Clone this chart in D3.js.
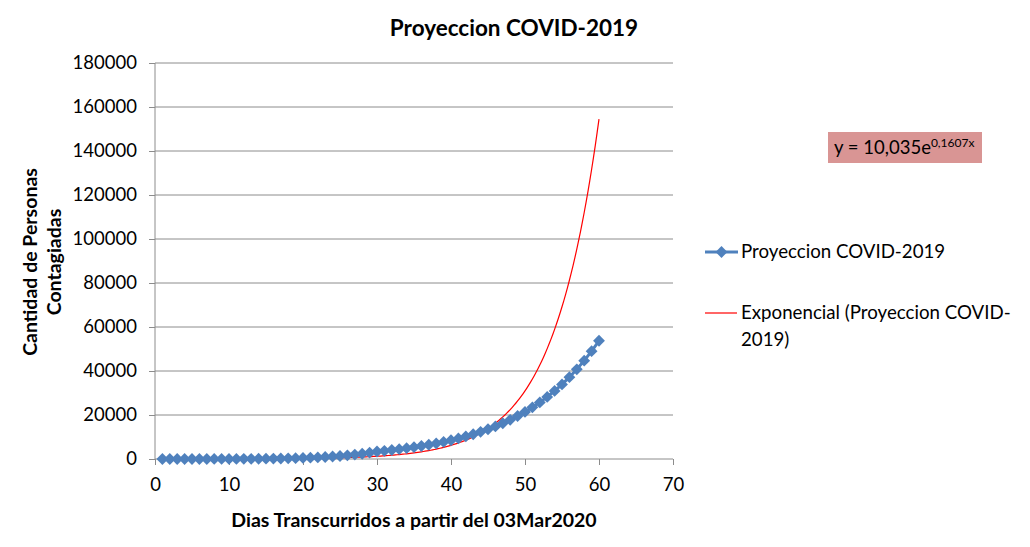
<!DOCTYPE html>
<html>
<head>
<meta charset="utf-8">
<script src="https://cdn.jsdelivr.net/npm/d3@7"></script>
<style>
  body { margin: 0; background: #fff; }
  svg { font-family: Lato, 'Open Sans', sans-serif; }
</style>
</head>
<body>
<div id="chart"></div>
<script>
const width = 1030
const height = 547
const margin = { top: 63, right: 357, bottom: 88, left: 155 }

// dias transcurridos (1..60) y casos proyectados
const dias = d3.range(1, 61)
const casos = [2, 3, 4, 6, 8, 11, 15, 20, 27, 36, 48, 64, 84, 109, 141, 182, 233, 297, 377, 474,
  593, 737, 912, 1120, 1368, 1660, 2003, 2404, 2866, 3400, 3728, 4087, 4481, 4913, 5386, 5905,
  6475, 7099, 7784, 8532, 9354, 10256, 11245, 12330, 13515, 14818, 16247, 17814, 19531, 21408,
  23472, 25736, 28218, 30938, 33912, 37183, 40766, 44696, 49008, 53734]
const yTicks = [0, 20000, 40000, 60000, 80000, 100000, 120000, 140000, 160000, 180000]
const xTicks = [0, 10, 20, 30, 40, 50, 60, 70]

// linea de tendencia exponencial mostrada: y = 10,035e^(0,1607x)
const trendA = 10.035
const trendB = 0.1607

const blue = '#4F81BD'
const grid = '#8c8c8c'

const svg = d3.select('#chart')
  .append('svg')
  .attr('width', width)
  .attr('height', height)

const x = d3.scaleLinear().domain([0, 70]).range([margin.left, width - margin.right])
const y = d3.scaleLinear().domain([0, 180000]).range([height - margin.bottom, margin.top])

// gridlines
svg.append('g')
  .selectAll('line')
  .data(yTicks.slice(1))
  .enter()
  .append('line')
  .attr('x1', x(0))
  .attr('x2', x(70))
  .attr('y1', (d) => y(d))
  .attr('y2', (d) => y(d))
  .attr('stroke', grid)
  .attr('stroke-width', 1)

const yAxis = svg.append('g')
  .attr('transform', `translate(${x(0)},0)`)
  .call(d3.axisLeft(y).tickValues(yTicks).tickSize(6).tickPadding(12).tickFormat(d3.format('d')))
const xAxis = svg.append('g')
  .attr('transform', `translate(0,${y(0)})`)
  .call(d3.axisBottom(x).tickValues(xTicks).tickSize(6).tickPadding(13).tickFormat(d3.format('d')))

for (const ax of [yAxis, xAxis]) {
  ax.select('.domain').attr('stroke', grid)
  ax.selectAll('.tick line').attr('stroke', grid)
  ax.selectAll('.tick text').attr('fill', '#000').style('font-size', '18.5px').style('font-family', 'Lato')
}
// dominios planos, sin marcas en los extremos
xAxis.select('.domain').attr('d', `M${x(0)},0H${x(70)}`)
yAxis.select('.domain').attr('d', `M0,${y(180000)}V${y(0)}`)

// linea de tendencia
const trendX = d3.range(1, 60.001, 0.25)
const trendLine = d3.line()
  .x((d) => x(d))
  .y((d) => y(trendA * Math.exp(trendB * d)))
svg.append('path')
  .datum(trendX)
  .attr('d', trendLine)
  .attr('fill', 'none')
  .attr('stroke', '#ff0000')
  .attr('stroke-width', 1.2)

// serie
const line = d3.line()
  .x((d, i) => x(dias[i]))
  .y((d) => y(d))
svg.append('path')
  .datum(casos)
  .attr('d', line)
  .attr('fill', 'none')
  .attr('stroke', blue)
  .attr('stroke-width', 3)

const diamond = d3.symbol().type(d3.symbolSquare).size(70)
svg.append('g')
  .selectAll('path')
  .data(casos)
  .enter()
  .append('path')
  .attr('d', diamond)
  .attr('transform', (d, i) => `translate(${x(dias[i])},${y(d)}) rotate(45)`)
  .attr('fill', blue)

// titulos
svg.append('text')
  .attr('x', 514)
  .attr('y', 36)
  .attr('text-anchor', 'middle')
  .style('font-size', '22.5px')
  .style('font-weight', 'bold')
  .text('Proyeccion COVID-2019')

svg.append('text')
  .attr('x', 414)
  .attr('y', 527)
  .attr('text-anchor', 'middle')
  .style('font-size', '19.5px')
  .style('font-weight', 'bold')
  .text('Dias Transcurridos a partir del 03Mar2020')

const yTitle = svg.append('text')
  .attr('transform', 'translate(0,262) rotate(-90)')
  .attr('text-anchor', 'middle')
  .style('font-size', '19.5px')
  .style('font-weight', 'bold')
yTitle.append('tspan').attr('x', 0).attr('y', 37).text('Cantidad de Personas')
yTitle.append('tspan').attr('x', 0).attr('y', 61).text('Contagiadas')

// leyenda
const lg = svg.append('g')
lg.append('line')
  .attr('x1', 705).attr('x2', 738).attr('y1', 252).attr('y2', 252)
  .attr('stroke', blue).attr('stroke-width', 3)
lg.append('path')
  .attr('d', diamond)
  .attr('transform', 'translate(721.5,252) rotate(45)')
  .attr('fill', blue)
lg.append('text')
  .attr('x', 741).attr('y', 258)
  .style('font-size', '18.7px')
  .text('Proyeccion COVID-2019')

lg.append('line')
  .attr('x1', 705).attr('x2', 737).attr('y1', 313).attr('y2', 313)
  .attr('stroke', '#ff0000').attr('stroke-width', 1.2)
const lt = lg.append('text')
  .style('font-size', '18.7px')
lt.append('tspan').attr('x', 741).attr('y', 319).text('Exponencial (Proyeccion COVID-')
lt.append('tspan').attr('x', 741).attr('y', 346).text('2019)')

// etiqueta de la ecuacion
svg.append('rect')
  .attr('x', 828).attr('y', 132).attr('width', 154).attr('height', 31)
  .attr('fill', '#d99594')
const eq = svg.append('text')
  .attr('x', 834).attr('y', 154)
  .style('font-size', '18.5px')
eq.append('tspan').text(`y = ${d3.format('.3f')(trendA).replace('.', ',')}e`)
eq.append('tspan').attr('dy', -7).style('font-size', '12px').text(`${trendB}x`.replace('.', ','))
</script>
</body>
</html>
